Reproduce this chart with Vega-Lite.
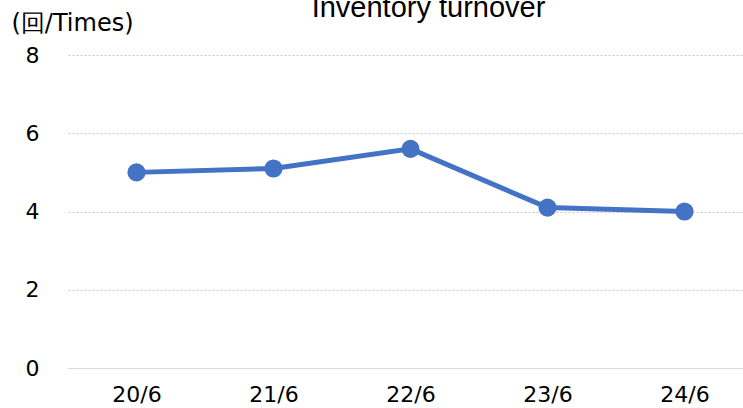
{
  "$schema": "https://vega.github.io/schema/vega-lite/v6.json",
  "autosize": {"type": "none"},
  "width": 685,
  "height": 313,
  "padding": {"left": 68, "top": 55, "right": 0, "bottom": 40},
  "background": "white",
  "config": {"view": {"stroke": null}, "font": "DejaVu Sans"},
  "title": {"text": "Inventory turnover", "fontSize": 29, "fontWeight": "normal", "color": "#000000", "anchor": "middle", "frame": "group", "dx": 18, "dy": 35, "offset": 0, "baseline": "alphabetic", "font": "Liberation Sans"},
  "data": {"values": [
    {"period": "20/6", "value": 5.0},
    {"period": "21/6", "value": 5.1},
    {"period": "22/6", "value": 5.6},
    {"period": "23/6", "value": 4.1},
    {"period": "24/6", "value": 4.0}
  ]},
  "encoding": {
    "x": {"field": "period", "type": "ordinal", "sort": null, "scale": {"type": "point", "padding": 0.5},
      "axis": {"title": null, "labelAngle": 0, "labelFontSize": 22, "labelColor": "#000000", "labelPadding": 16, "ticks": false, "domain": true, "domainColor": "#d9d9d9", "domainWidth": 1, "grid": false}},
    "y": {"field": "value", "type": "quantitative", "scale": {"domain": [0, 8]},
      "axis": {"values": [0, 2, 4, 6, 8], "title": "(回/Times)", "titleAngle": 0, "titleAlign": "left", "titleBaseline": "alphabetic", "titleX": -57, "titleY": -25, "titleFontSize": 24, "titleFontWeight": "normal", "titleColor": "#000000",
        "labelFontSize": 22, "labelColor": "#000000", "labelPadding": 29, "ticks": false, "domain": false, "grid": true, "gridColor": "#c8c8c8", "gridDash": [2, 2], "gridWidth": 1}}
  },
  "layer": [
    {"mark": {"type": "line", "color": "#4472C4", "strokeWidth": 5}},
    {"mark": {"type": "point", "filled": true, "color": "#4472C4", "size": 330, "opacity": 1}}
  ]
}
